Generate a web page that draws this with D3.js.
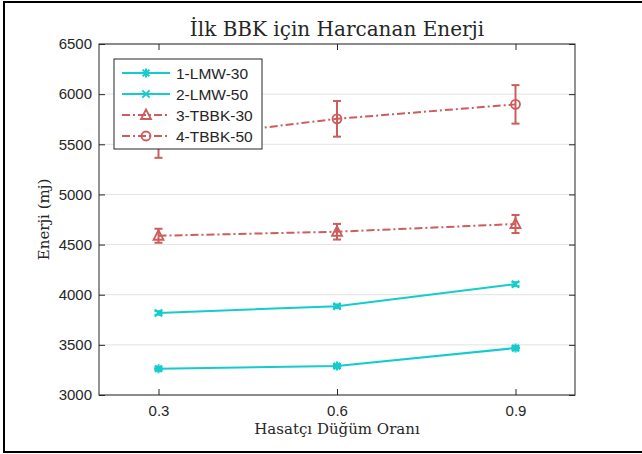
<!DOCTYPE html>
<html lang="tr">
<head>
    <meta charset="UTF-8">
    <title>İlk BBK için Harcanan Enerji</title>
    <script src="https://d3js.org/d3.v7.min.js"></script>
    <style>
        body { margin: 0; background: #fff; }
        .tick-label { font-family: "Liberation Sans", Arial, sans-serif; font-size: 15px; fill: #262626; }
        .serif { font-family: "DejaVu Serif", "Liberation Serif", serif; fill: #262626; }
    </style>
</head>
<body>
<svg width="642" height="454"></svg>
<script>
    // Data
    const ratios = [0.3, 0.6, 0.9];
    const seriesNames = ["1-LMW-30", "2-LMW-50", "3-TBBK-30", "4-TBBK-50"];
    const lmw30 = [3262, 3288, 3468];
    const lmw30Err = [18, 18, 20];
    const lmw50 = [3818, 3885, 4105];
    const lmw50Err = [18, 18, 20];
    const tbbk30 = [4588, 4628, 4705];
    const tbbk30Err = [70, 78, 90];
    const tbbk50 = [5540, 5754, 5898];
    const tbbk50Err = [175, 178, 192];
    const yTicks = [3000, 3500, 4000, 4500, 5000, 5500, 6000, 6500];
    const xTicks = [0.3, 0.6, 0.9];

    const cyan = "#14cccc";
    const red = "#cd5c5c";

    const series = [
        { name: seriesNames[0], values: lmw30, err: lmw30Err, color: cyan, dash: null, marker: "asterisk" },
        { name: seriesNames[1], values: lmw50, err: lmw50Err, color: cyan, dash: null, marker: "cross" },
        { name: seriesNames[2], values: tbbk30, err: tbbk30Err, color: red, dash: "8,3,2,3", marker: "triangle" },
        { name: seriesNames[3], values: tbbk50, err: tbbk50Err, color: red, dash: "8,3,2,3", marker: "circle" }
    ];

    const svg = d3.select("svg");
    const margin = { top: 44, right: 67, bottom: 59, left: 99 };
    const width = 642 - margin.left - margin.right,
        height = 454 - margin.top - margin.bottom;

    // Outer frame around the whole figure
    svg.append("rect").attr("x", 4).attr("y", 2).attr("width", 642).attr("height", 450)
        .attr("fill", "none").attr("stroke", "#000").attr("stroke-width", 2);

    const g = svg.append("g").attr("transform", `translate(${margin.left},${margin.top})`);

    const x = d3.scaleLinear().domain([0.2, 1.0]).range([0, width]);
    const y = d3.scaleLinear().domain([3000, 6500]).range([height, 0]);

    // Horizontal grid lines
    g.selectAll(".grid").data(yTicks).enter().append("line")
        .attr("x1", 0).attr("x2", width)
        .attr("y1", d => y(d)).attr("y2", d => y(d))
        .attr("stroke", "#e3e3e3").attr("stroke-width", 1);

    // Axes with inward ticks on all four sides (MATLAB box style)
    const axisColor = "#262626";
    const styleAxis = sel => {
        sel.select(".domain").remove();
        sel.selectAll(".tick line").attr("stroke", axisColor);
        sel.selectAll(".tick text").attr("class", "tick-label").attr("fill", axisColor);
    };
    g.append("g").attr("transform", `translate(0,${height})`)
        .call(d3.axisBottom(x).tickValues(xTicks).tickSize(-6).tickPadding(10).tickFormat(d3.format(".1f")))
        .call(styleAxis);
    g.append("g")
        .call(d3.axisTop(x).tickValues(xTicks).tickSize(-6).tickFormat(""))
        .call(styleAxis);
    g.append("g")
        .call(d3.axisLeft(y).tickValues(yTicks).tickSize(-6).tickPadding(7).tickFormat(d3.format("d")))
        .call(styleAxis);
    g.append("g").attr("transform", `translate(${width},0)`)
        .call(d3.axisRight(y).tickValues(yTicks).tickSize(-6).tickFormat(""))
        .call(styleAxis);
    g.append("rect").attr("width", width).attr("height", height)
        .attr("fill", "none").attr("stroke", axisColor).attr("stroke-width", 1);

    // Marker drawing
    function drawMarker(sel, type, color) {
        const s = 4.5;
        if (type === "asterisk") {
            sel.append("path")
                .attr("d", `M${-s},0H${s}M0,${-s}V${s}M${-s * 0.75},${-s * 0.75}L${s * 0.75},${s * 0.75}M${-s * 0.75},${s * 0.75}L${s * 0.75},${-s * 0.75}`)
                .attr("stroke", color).attr("stroke-width", 2).attr("fill", "none");
        } else if (type === "cross") {
            sel.append("path")
                .attr("d", `M${-s * 0.8},${-s * 0.8}L${s * 0.8},${s * 0.8}M${-s * 0.8},${s * 0.8}L${s * 0.8},${-s * 0.8}`)
                .attr("stroke", color).attr("stroke-width", 2).attr("fill", "none");
        } else if (type === "triangle") {
            sel.append("path")
                .attr("d", `M0,${-s - 1}L${s + 0.5},${s - 0.5}L${-s - 0.5},${s - 0.5}Z`)
                .attr("stroke", color).attr("stroke-width", 1.8).attr("fill", "none");
        } else {
            sel.append("circle").attr("r", s)
                .attr("stroke", color).attr("stroke-width", 1.8).attr("fill", "none");
        }
    }

    const line = d3.line().x(d => x(d[0])).y(d => y(d[1]));

    series.forEach(s => {
        const pts = ratios.map((r, i) => [r, s.values[i], s.err[i]]);
        const sg = g.append("g");
        sg.append("path").datum(pts).attr("d", line)
            .attr("fill", "none").attr("stroke", s.color).attr("stroke-width", 2)
            .attr("stroke-dasharray", s.dash);
        // Error bars with caps
        const eb = sg.selectAll(".eb").data(pts).enter().append("g")
            .attr("stroke", s.color).attr("stroke-width", 2);
        eb.append("line").attr("x1", d => x(d[0])).attr("x2", d => x(d[0]))
            .attr("y1", d => y(d[1] - d[2])).attr("y2", d => y(d[1] + d[2]));
        eb.append("line").attr("x1", d => x(d[0]) - 4).attr("x2", d => x(d[0]) + 4)
            .attr("y1", d => y(d[1] - d[2])).attr("y2", d => y(d[1] - d[2]));
        eb.append("line").attr("x1", d => x(d[0]) - 4).attr("x2", d => x(d[0]) + 4)
            .attr("y1", d => y(d[1] + d[2])).attr("y2", d => y(d[1] + d[2]));
        sg.selectAll(".mk").data(pts).enter().append("g")
            .attr("transform", d => `translate(${x(d[0])},${y(d[1])})`)
            .each(function () { drawMarker(d3.select(this), s.marker, s.color); });
    });

    // Legend
    const lg = g.append("g").attr("transform", "translate(15,15)");
    lg.append("rect").attr("width", 148).attr("height", 90)
        .attr("fill", "#fff").attr("stroke", axisColor).attr("stroke-width", 1);
    series.forEach((s, i) => {
        const row = lg.append("g").attr("transform", `translate(0,${14 + i * 21})`);
        row.append("line").attr("x1", 8).attr("x2", 56).attr("y1", 0).attr("y2", 0)
            .attr("stroke", s.color).attr("stroke-width", 2).attr("stroke-dasharray", s.dash);
        drawMarker(row.append("g").attr("transform", "translate(32,0)"), s.marker, s.color);
        row.append("text").attr("class", "tick-label").attr("x", 62).attr("y", 5.5)
            .style("font-size", "15.5px").text(s.name);
    });

    // Titles
    svg.append("text").attr("class", "serif").attr("x", margin.left + width / 2).attr("y", 36)
        .attr("text-anchor", "middle").style("font-size", "20px").text("İlk BBK için Harcanan Enerji");
    svg.append("text").attr("class", "serif").attr("x", margin.left + width / 2).attr("y", 434)
        .attr("text-anchor", "middle").style("font-size", "15px").text("Hasatçı Düğüm Oranı");
    svg.append("text").attr("class", "serif")
        .attr("transform", `translate(49,${margin.top + height / 2}) rotate(-90)`)
        .attr("text-anchor", "middle").style("font-size", "15px").text("Enerji (mj)");
</script>
</body>
</html>
